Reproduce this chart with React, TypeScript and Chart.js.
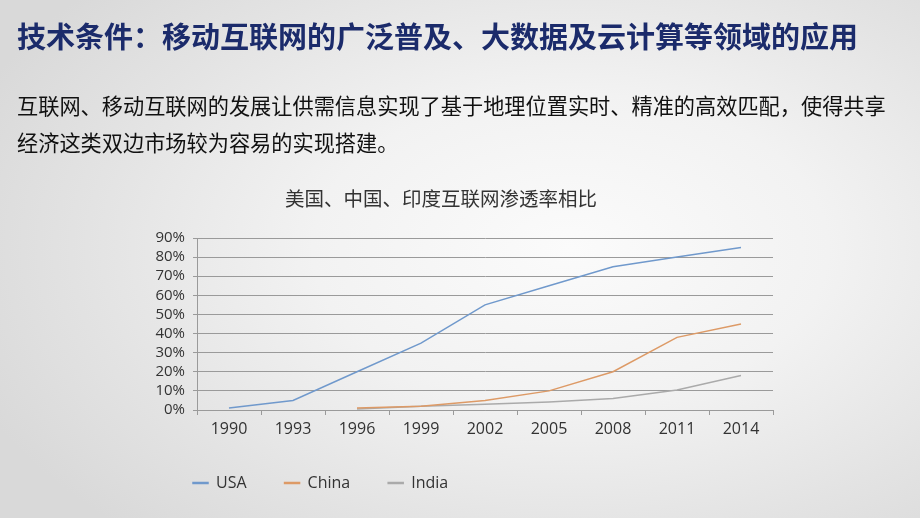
import React, { useEffect, useRef } from "react";
import { Chart, registerables } from "chart.js";

Chart.register(...registerables);

const pageTitle = "技术条件：移动互联网的广泛普及、大数据及云计算等领域的应用";
const bodyLines = [
  "互联网、移动互联网的发展让供需信息实现了基于地理位置实时、精准的高效匹配，使得共享",
  "经济这类双边市场较为容易的实现搭建。",
];
const chartTitle = "美国、中国、印度互联网渗透率相比";

const years = ["1990", "1993", "1996", "1999", "2002", "2005", "2008", "2011", "2014"];
const usa = [1, 5, 20, 35, 55, 65, 75, 80, 85];
const china = [null, null, 1, 2, 5, 10, 20, 38, 45];
const india = [null, null, 0.5, 2, 3, 4.2, 6, 10.5, 18];

const seriesNames = ["USA", "China", "India"];
const seriesColors = ["#7099cc", "#dd9a66", "#aaaaaa"];

const yMax = 90;
const yStep = 10;

export default function App() {
  const ref = useRef<HTMLCanvasElement | null>(null);

  useEffect(() => {
    if (!ref.current) return;
    const gridColor = "#9a9a9a";
    const family = "'Open Sans', 'Noto Sans', sans-serif";
    const tickFont = { family, size: 16 };
    const chart = new Chart(ref.current, {
      type: "line",
      data: {
        labels: years,
        datasets: [usa, china, india].map((d, i) => ({
          label: seriesNames[i],
          data: d,
          borderColor: seriesColors[i],
          backgroundColor: seriesColors[i],
          borderWidth: 1.5,
          pointRadius: 0,
          tension: 0,
          fill: false,
        })),
      },
      options: {
        animation: false,
        responsive: false,
        devicePixelRatio: 1,
        layout: { padding: { left: 155, right: 147, top: 238, bottom: 17 } },
        plugins: {
          title: { display: false },
          tooltip: { enabled: false },
          legend: {
            position: "bottom",
            align: "start",
            labels: {
              boxWidth: 15,
              boxHeight: 1,
              padding: 38,
              color: "#333333",
              font: tickFont,
            },
          },
        },
        scales: {
          x: {
            offset: true,
            grid: {
              display: true,
              offset: true,
              drawOnChartArea: false,
              drawTicks: true,
              tickLength: 5,
              color: gridColor,
            },
            border: { display: true, color: gridColor },
            ticks: {
              padding: 5,
              color: "#333333",
              font: tickFont,
              maxRotation: 0,
              autoSkip: false,
            },
            afterFit: (s: any) => {
              s.height = 27;
            },
          },
          y: {
            min: 0,
            max: yMax,
            ticks: {
              stepSize: yStep,
              autoSkip: false,
              padding: 8,
              color: "#333333",
              font: { family, size: 15 },
              callback: (v: any) => v + "%",
            },
            grid: { color: gridColor, tickLength: 4, drawTicks: true },
            border: { display: true, color: gridColor },
            afterFit: (s: any) => {
              s.width = 42;
            },
          },
        },
      },
    });
    return () => chart.destroy();
  }, []);

  const cjk = "'Noto Sans CJK SC', 'Noto Sans', sans-serif";

  return (
    <div
      style={{
        position: "fixed",
        left: 0,
        top: 0,
        width: 920,
        height: 518,
        overflow: "hidden",
        background:
          "radial-gradient(ellipse 70% 75% at 62% 48%, #fbfbfb 0%, #f2f2f2 40%, #e3e3e3 75%, #d9d9d9 100%)",
      }}
    >
      <div
        style={{
          position: "absolute",
          left: 17,
          top: 20.5,
          fontFamily: cjk,
          fontWeight: 700,
          fontSize: 29,
          lineHeight: "29px",
          color: "#1b2b6b",
          whiteSpace: "nowrap",
        }}
      >
        {pageTitle}
      </div>
      <div
        style={{
          position: "absolute",
          left: 17,
          top: 85.5,
          fontFamily: cjk,
          fontSize: 21.2,
          lineHeight: "37px",
          color: "#111111",
          whiteSpace: "nowrap",
        }}
      >
        {bodyLines[0]}
        <br />
        {bodyLines[1]}
      </div>
      <div
        style={{
          position: "absolute",
          left: 0,
          width: 882,
          top: 188,
          textAlign: "center",
          fontFamily: cjk,
          fontSize: 19.5,
          lineHeight: "20px",
          color: "#333333",
          whiteSpace: "nowrap",
        }}
      >
        {chartTitle}
      </div>
      <canvas
        ref={ref}
        width={920}
        height={518}
        style={{ position: "absolute", left: 0, top: 0, width: 920, height: 518 }}
      />
    </div>
  );
}
